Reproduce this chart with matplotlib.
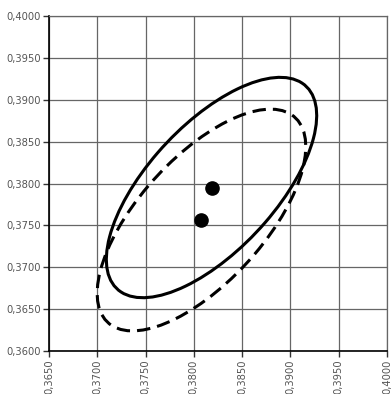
import numpy as np
import matplotlib
matplotlib.use('Agg')
import matplotlib.pyplot as plt
from matplotlib.patches import Ellipse
from matplotlib.ticker import FuncFormatter

# ---- dados ----
x_ticks = [0.3650, 0.3700, 0.3750, 0.3800, 0.3850, 0.3900, 0.3950, 0.4000]
y_ticks = [0.3600, 0.3650, 0.3700, 0.3750, 0.3800, 0.3850, 0.3900, 0.3950, 0.4000]

# centros (pontos) das duas elipses
centro_x = [0.38183, 0.38079]
centro_y = [0.37952, 0.37564]
# eixos completos (2a, 2b) e angulo em graus
largura = [0.03120, 0.03130]
altura = [0.01390, 0.01370]
angulo = [53.1, 53.6]
estilos = ['solid', (0, (4.4, 2.3))]

# ---- figura ----
fig = plt.figure(figsize=(3.92, 3.94), dpi=100)
ax = fig.add_axes([0.125, 0.1091, 0.8622, 0.8503])

for cx, cy, w, h, a, ls in zip(centro_x, centro_y, largura, altura, angulo, estilos):
    e = Ellipse((cx, cy), w, h, angle=a, fill=False, edgecolor='black',
                linewidth=2.2, linestyle=ls, zorder=3)
    ax.add_patch(e)

ax.plot(centro_x, centro_y, 'o', color='black', markersize=9.5, zorder=4)

ax.set_xlim(x_ticks[0], x_ticks[-1])
ax.set_ylim(y_ticks[0], y_ticks[-1])
ax.set_xticks(x_ticks)
ax.set_yticks(y_ticks)

fmt = FuncFormatter(lambda v, p: f'{v:.4f}'.replace('.', ','))
ax.xaxis.set_major_formatter(fmt)
ax.yaxis.set_major_formatter(fmt)

ax.grid(True, color='#666666', linewidth=0.9, zorder=1)
ax.set_axisbelow(True)
for s in ['top', 'right']:
    ax.spines[s].set_color('#666666')
    ax.spines[s].set_linewidth(0.9)
for s in ['left', 'bottom']:
    ax.spines[s].set_color('black')
    ax.spines[s].set_linewidth(1.2)

ax.tick_params(axis='both', direction='out', length=4, width=1.0,
               colors='#333333', labelcolor='#555555', labelsize=7.2, pad=2)
plt.setp(ax.get_xticklabels(), rotation=90)

fig.savefig('out.png', dpi=100)
